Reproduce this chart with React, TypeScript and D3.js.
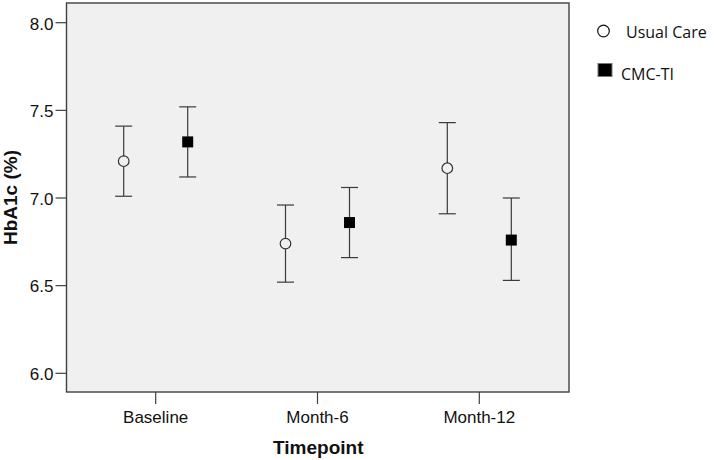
import React, { useRef, useEffect } from 'react'
import * as d3 from 'd3'

const timepoints = ['Baseline', 'Month-6', 'Month-12']
const groups = ['Usual Care', 'CMC-TI']
const usualMean = [7.21, 6.74, 7.17]
const usualLow = [7.01, 6.52, 6.91]
const usualHigh = [7.41, 6.96, 7.43]
const cmcMean = [7.32, 6.86, 6.76]
const cmcLow = [7.12, 6.66, 6.53]
const cmcHigh = [7.52, 7.06, 7.0]
const yTicks = [6.0, 6.5, 7.0, 7.5, 8.0]

const W = 714
const H = 460
const frame = { left: 66.5, top: 3, right: 569, bottom: 392 }

export default function App() {
  const svgRef = useRef<SVGSVGElement>(null)

  useEffect(() => {
    if (!svgRef.current) return
    const svg = d3.select(svgRef.current)
    svg.selectAll('*').remove()

    const x = d3.scalePoint<string>().domain(timepoints).range([155.7, 479.3])
    const dx = d3.scalePoint<string>().domain(groups).range([-32, 32])
    const y = d3.scaleLinear().domain([6, 8]).range([373.3, 22.7])

    // plot background + frame
    svg.append('rect')
      .attr('x', frame.left).attr('y', frame.top)
      .attr('width', frame.right - frame.left)
      .attr('height', frame.bottom - frame.top)
      .attr('fill', '#f0f0f0')
      .attr('stroke', '#404040')
      .attr('stroke-width', 1.4)

    const axisFont = '"Liberation Sans", Arial, Helvetica, sans-serif'

    // y axis
    const ya = svg.append('g')
    yTicks.forEach((t) => {
      ya.append('line')
        .attr('x1', frame.left - 11).attr('x2', frame.left)
        .attr('y1', y(t)).attr('y2', y(t))
        .attr('stroke', '#404040').attr('stroke-width', 1.2)
      ya.append('text')
        .attr('x', frame.left - 13).attr('y', y(t))
        .attr('dy', '0.4em')
        .attr('text-anchor', 'end')
        .attr('font-family', axisFont)
        .attr('font-size', 17)
        .attr('fill', '#111')
        .text(d3.format('.1f')(t))
    })

    // x axis
    const xa = svg.append('g')
    timepoints.forEach((c) => {
      xa.append('line')
        .attr('x1', x(c)!).attr('x2', x(c)!)
        .attr('y1', frame.bottom).attr('y2', frame.bottom + 12)
        .attr('stroke', '#404040').attr('stroke-width', 1.2)
      xa.append('text')
        .attr('x', x(c)!).attr('y', 422.5)
        .attr('text-anchor', 'middle')
        .attr('font-family', axisFont)
        .attr('font-size', 17)
        .attr('fill', '#111')
        .text(c)
    })

    svg.append('text')
      .attr('x', (frame.left + frame.right) / 2 + 0.5).attr('y', 454)
      .attr('text-anchor', 'middle')
      .attr('font-family', axisFont)
      .attr('font-weight', 'bold')
      .attr('font-size', 19)
      .attr('fill', '#111')
      .text('Timepoint')

    svg.append('text')
      .attr('transform', `translate(17,${(frame.top + frame.bottom) / 2}) rotate(-90)`)
      .attr('text-anchor', 'middle')
      .attr('font-family', axisFont)
      .attr('font-weight', 'bold')
      .attr('font-size', 19)
      .attr('fill', '#111')
      .text('HbA1c (%)')

    // error bars and markers
    const series = [
      { name: groups[0], mean: usualMean, low: usualLow, high: usualHigh },
      { name: groups[1], mean: cmcMean, low: cmcLow, high: cmcHigh },
    ]
    const capW = 8.5
    series.forEach((s) => {
      const g = svg.append('g')
      timepoints.forEach((c, i) => {
        const cx = x(c)! + dx(s.name)!
        g.append('line')
          .attr('x1', cx).attr('x2', cx)
          .attr('y1', y(s.low[i])).attr('y2', y(s.high[i]))
          .attr('stroke', '#3a3a3a').attr('stroke-width', 1.2)
        ;[s.low[i], s.high[i]].forEach((v) => {
          g.append('line')
            .attr('x1', cx - capW).attr('x2', cx + capW)
            .attr('y1', y(v)).attr('y2', y(v))
            .attr('stroke', '#3a3a3a').attr('stroke-width', 1.2)
        })
        if (s.name === groups[0]) {
          g.append('circle')
            .attr('cx', cx).attr('cy', y(s.mean[i]))
            .attr('r', 5.3)
            .attr('fill', '#f0f0f0')
            .attr('stroke', '#333').attr('stroke-width', 1.2)
        } else {
          g.append('rect')
            .attr('x', cx - 5.5).attr('y', y(s.mean[i]) - 5.5)
            .attr('width', 11).attr('height', 11)
            .attr('fill', '#000')
        }
      })
    })

    // legend
    const legFont = '"Open Sans", sans-serif'
    const lg = svg.append('g')
    lg.append('circle')
      .attr('cx', 603.5).attr('cy', 31)
      .attr('r', 5.8)
      .attr('fill', '#fff')
      .attr('stroke', '#111').attr('stroke-width', 1.2)
    lg.append('text')
      .attr('x', 626).attr('y', 37.5)
      .attr('font-family', legFont)
      .attr('font-size', 16)
      .attr('fill', '#111')
      .text(groups[0])
    lg.append('rect')
      .attr('x', 598).attr('y', 63.5)
      .attr('width', 14).attr('height', 13)
      .attr('fill', '#000')
      .attr('stroke', '#777').attr('stroke-width', 1)
    lg.append('text')
      .attr('x', 621).attr('y', 80)
      .attr('font-family', legFont)
      .attr('font-size', 16)
      .attr('fill', '#111')
      .text(groups[1])
  }, [])

  return (
    <>
      <style>{'body{margin:0;background:#fff}'}</style>
      <svg ref={svgRef} width={W} height={H} style={{ display: 'block' }} />
    </>
  )
}
